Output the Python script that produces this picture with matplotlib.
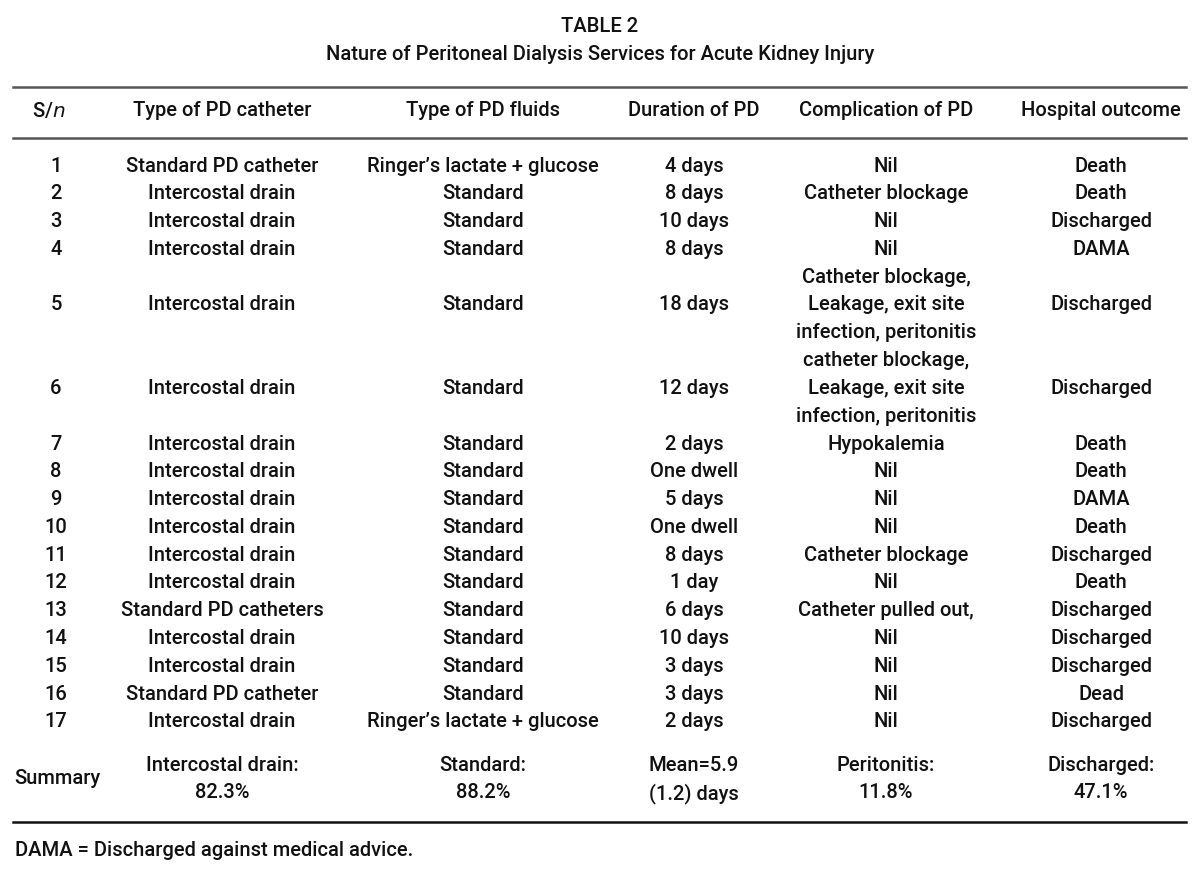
import matplotlib
matplotlib.use("Agg")
import matplotlib.pyplot as plt

# --- contenuto della tabella ---
title = "TABLE 2"
subtitle = "Nature of Peritoneal Dialysis Services for Acute Kidney Injury"
headers = ["S/$n$", "Type of PD catheter", "Type of PD fluids",
           "Duration of PD", "Complication of PD", "Hospital outcome"]

sn = [str(i) for i in range(1, 18)]
catheter = ["Standard PD catheter"] + ["Intercostal drain"] * 11 + \
           ["Standard PD catheters", "Intercostal drain", "Intercostal drain",
            "Standard PD catheter", "Intercostal drain"]
fluids = ["Ringer\u2019s lactate + glucose"] + ["Standard"] * 15 + \
         ["Ringer\u2019s lactate + glucose"]
duration = ["4 days", "8 days", "10 days", "8 days", "18 days", "12 days",
            "2 days", "One dwell", "5 days", "One dwell", "8 days", "1 day",
            "6 days", "10 days", "3 days", "3 days", "2 days"]
complication = ["Nil", "Catheter blockage", "Nil", "Nil",
                "Catheter blockage,\nLeakage, exit site\ninfection, peritonitis",
                "catheter blockage,\nLeakage, exit site\ninfection, peritonitis",
                "Hypokalemia", "Nil", "Nil", "Nil", "Catheter blockage", "Nil",
                "Catheter pulled out,", "Nil", "Nil", "Nil", "Nil"]
outcome = ["Death", "Death", "Discharged", "DAMA", "Discharged", "Discharged",
           "Death", "Death", "DAMA", "Death", "Discharged", "Death",
           "Discharged", "Discharged", "Discharged", "Dead", "Discharged"]
summary = ["Summary", "Intercostal drain:\n82.3%", "Standard:\n88.2%",
           "Mean=5.9\n(1.2) days", "Peritonitis:\n11.8%", "Discharged:\n47.1%"]
footnote = "DAMA = Discharged against medical advice."

# --- layout (pixel) ---
W, H = 1200, 874
col_x = [56, 222, 483, 694, 886, 1101]
line_h = 27.8
fs = 14.5
font = "Roboto"

fig = plt.figure(figsize=(W / 100, H / 100), dpi=100)
ax = fig.add_axes([0, 0, 1, 1])
ax.set_xlim(0, W)
ax.set_ylim(H, 0)
ax.axis("off")

def txt(x, yc, s, ha="center"):
    # ogni riga del testo posizionata a mano, per avere la spaziatura giusta
    parts = s.split("\n")
    n = len(parts)
    for k, p in enumerate(parts):
        yy = yc + (k - (n - 1) / 2) * line_h
        ax.text(x, yy, p, ha=ha, va="center_baseline", fontsize=fs,
                family=font, fontweight="medium", color="#111111")

txt(600, 25, title)
txt(600, 53, subtitle)

# righe orizzontali della tabella
for yl, col in [(87, "#555555"), (137.5, "#555555"), (822, "#111111")]:
    ax.axhline(yl, xmin=13 / W, xmax=1186 / W, color=col, lw=1.8, zorder=5)

for i, h in enumerate(headers):
    txt(col_x[i] - 7 if i == 0 else col_x[i], 109, h)

y = 164
for i in range(len(sn)):
    nlines = complication[i].count("\n") + 1
    yc = y + (nlines - 1) * line_h / 2
    row = [sn[i], catheter[i], fluids[i], duration[i], complication[i], outcome[i]]
    for j, s in enumerate(row):
        txt(col_x[j], yc, s)
    y += nlines * line_h

for j, s in enumerate(summary):
    txt(col_x[j] + (1 if j == 0 else 0), 777, s)

txt(15, 849, footnote, ha="left")

fig.savefig("out.png", dpi=100, facecolor="white")
